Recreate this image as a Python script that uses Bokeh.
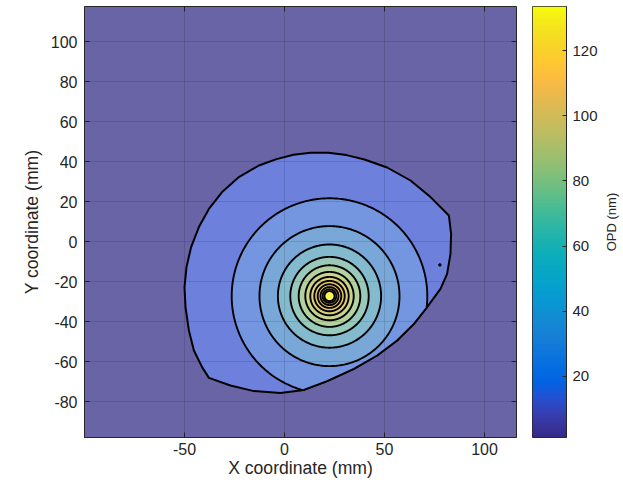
import numpy as np
from bokeh.plotting import figure
from bokeh.models import Range1d, FixedTicker, LinearColorMapper
from bokeh.layouts import row
from bokeh.embed import file_html
from bokeh.resources import INLINE

# ---------------- data ----------------
center_x = 22.5
center_y = -27.3
boundary_level = 10
ring_levels = [20, 30, 40, 50, 60, 70, 80, 90, 100, 110, 120, 130]
ring_radii = [48.9, 35.0, 25.8, 19.6, 15.4, 12.1, 9.6, 7.6, 5.9, 4.5, 3.4, 2.5]
boundary_x = [-37.8, -41.2, -45.3, -47.8, -49.5, -50.0, -49.0, -46.7, -42.8, -37.8,
              -31.2, -22.8, -12.8, -4.0, 4.5, 13.0, 22.0, 31.0, 40.0, 51.3, 63.0, 73.0,
              82.2, 83.3, 83.0, 81.3, 78.0, 71.3, 64.7, 56.3, 46.3, 34.7,
              21.3, 9.7, -2.0, -15.3, -27.0]
boundary_y = [-68.2, -62.8, -54.5, -44.5, -32.8, -22.8, -12.8, -2.8, 7.2, 16.3,
              24.7, 32.2, 38.0, 41.2, 43.4, 44.4, 44.4, 43.2, 41.0, 37.0, 30.5, 22.2,
              13.0, 3.8, -6.2, -16.2, -23.7, -32.8, -41.2, -49.5, -57.0, -63.7,
              -69.8, -74.2, -75.7, -74.8, -72.0]
island_x = [77.7]
island_y = [-11.7]
opd_min = 1.2
opd_max = 133.6
x_ticks = [-50, 0, 50, 100]
y_ticks = [-80, -60, -40, -20, 0, 20, 40, 60, 80, 100]
cbar_ticks = [20, 40, 60, 80, 100, 120]
x_lo, x_hi = -100, 116
y_lo, y_hi = -98, 117.5

# ---------------- styling ----------------
PARULA = [
    (0.2081, 0.1663, 0.5292), (0.2116, 0.1898, 0.5777), (0.2123, 0.2138, 0.6270), (0.2081, 0.2386, 0.6771),
    (0.1959, 0.2645, 0.7279), (0.1707, 0.2919, 0.7792), (0.1253, 0.3242, 0.8303), (0.0591, 0.3598, 0.8683),
    (0.0117, 0.3875, 0.8820), (0.0060, 0.4086, 0.8828), (0.0165, 0.4266, 0.8786), (0.0329, 0.4430, 0.8720),
    (0.0498, 0.4586, 0.8641), (0.0629, 0.4737, 0.8554), (0.0723, 0.4887, 0.8467), (0.0779, 0.5040, 0.8384),
    (0.0793, 0.5200, 0.8312), (0.0749, 0.5375, 0.8263), (0.0641, 0.5570, 0.8240), (0.0488, 0.5772, 0.8228),
    (0.0343, 0.5966, 0.8199), (0.0265, 0.6137, 0.8135), (0.0239, 0.6287, 0.8038), (0.0231, 0.6418, 0.7913),
    (0.0228, 0.6535, 0.7768), (0.0267, 0.6642, 0.7607), (0.0384, 0.6743, 0.7436), (0.0590, 0.6838, 0.7254),
    (0.0843, 0.6928, 0.7062), (0.1133, 0.7015, 0.6859), (0.1453, 0.7098, 0.6646), (0.1801, 0.7177, 0.6424),
    (0.2178, 0.7250, 0.6193), (0.2586, 0.7317, 0.5954), (0.3022, 0.7376, 0.5712), (0.3482, 0.7424, 0.5473),
    (0.3953, 0.7459, 0.5244), (0.4420, 0.7481, 0.5033), (0.4871, 0.7491, 0.4840), (0.5300, 0.7491, 0.4661),
    (0.5709, 0.7485, 0.4494), (0.6099, 0.7473, 0.4337), (0.6473, 0.7456, 0.4188), (0.6834, 0.7435, 0.4044),
    (0.7184, 0.7411, 0.3905), (0.7525, 0.7384, 0.3768), (0.7858, 0.7356, 0.3633), (0.8185, 0.7327, 0.3498),
    (0.8507, 0.7299, 0.3360), (0.8824, 0.7274, 0.3217), (0.9139, 0.7258, 0.3063), (0.9450, 0.7261, 0.2886),
    (0.9739, 0.7314, 0.2666), (0.9938, 0.7455, 0.2403), (0.9990, 0.7653, 0.2164), (0.9955, 0.7861, 0.1967),
    (0.9880, 0.8066, 0.1794), (0.9789, 0.8271, 0.1633), (0.9697, 0.8481, 0.1475), (0.9626, 0.8705, 0.1309),
    (0.9589, 0.8949, 0.1132), (0.9598, 0.9218, 0.0948), (0.9661, 0.9514, 0.0755), (0.9763, 0.9831, 0.0538)]
# washed fill colours of the contour bands (background, then level 10 ... 130)
BG_COLOR = "#6964a6"
BAND_COLORS = {10: "#6c80dc", 20: "#7496e0", 30: "#78a7d8", 40: "#84bace", 50: "#98c9bb",
               60: "#b2d3a0", 70: "#c9d38c", 80: "#dccf7a", 90: "#e7c76e", 100: "#edc266",
               110: "#f1cb5c", 120: "#f3dc55", 130: "#f8f65a"}
TEXT = "#262626"
FONT = "Liberation Sans"


def to_hex(c):
    return "#%02x%02x%02x" % tuple(int(round(max(0, min(1, v)) * 255)) for v in c)


def smooth_palette(n=256):
    arr = np.array(PARULA)
    s = np.linspace(0, 1, len(PARULA))
    t = np.linspace(0, 1, n)
    return [to_hex((np.interp(tt, s, arr[:, 0]), np.interp(tt, s, arr[:, 1]), np.interp(tt, s, arr[:, 2]))) for tt in t]


def inside(p, a, b):
    return (b[0] - a[0]) * (p[1] - a[1]) - (b[1] - a[1]) * (p[0] - a[0]) >= 0


def intersect(s, e, a, b):
    dx, dy = e[0] - s[0], e[1] - s[1]
    ex, ey = b[0] - a[0], b[1] - a[1]
    den = dx * ey - dy * ex
    t = ((a[0] - s[0]) * ey - (a[1] - s[1]) * ex) / den
    return (s[0] + t * dx, s[1] + t * dy)


def clip_polygon(subject, clip):
    out = list(subject)
    for i in range(len(clip)):
        a, b = clip[i - 1], clip[i]
        inp, out = out, []
        if not inp:
            break
        s = inp[-1]
        for e in inp:
            if inside(e, a, b):
                if not inside(s, a, b):
                    out.append(intersect(s, e, a, b))
                out.append(e)
            elif inside(s, a, b):
                out.append(intersect(s, e, a, b))
            s = e
    return out


# ---------------- main plot ----------------
p = figure(frame_width=432, frame_height=431, min_border_left=84, min_border_right=9,
           min_border_top=6, min_border_bottom=47,
           x_range=Range1d(x_lo, x_hi), y_range=Range1d(y_lo, y_hi),
           toolbar_location=None, output_backend="svg", tools="")
p.background_fill_color = BG_COLOR
p.border_fill_color = "white"
p.outline_line_color = TEXT
p.outline_line_width = 1

boundary = list(zip(boundary_x, boundary_y))
p.patch(boundary_x, boundary_y, fill_color=BAND_COLORS[boundary_level], line_color="black",
        line_width=2.0, line_join="round")

theta = np.linspace(0, 2 * np.pi, 361)[:-1]
for lev, r in zip(ring_levels, ring_radii):
    circ = list(zip(center_x + r * np.cos(theta), center_y + r * np.sin(theta)))
    poly = clip_polygon(boundary, circ)
    p.patch([q[0] for q in poly], [q[1] for q in poly], fill_color=BAND_COLORS[lev],
            line_color="black", line_width=1.9, line_join="round")

p.scatter(island_x, island_y, size=2.5, color="black")

# inward ticks on the top and right edges of the box
tick_len_x = (x_hi - x_lo) / 432 * 5
tick_len_y = (y_hi - y_lo) / 431 * 5
p.segment(x0=x_ticks, y0=[y_hi] * len(x_ticks), x1=x_ticks, y1=[y_hi - tick_len_y] * len(x_ticks),
          line_color=TEXT, line_width=1)
p.segment(x0=[x_hi] * len(y_ticks), y0=y_ticks, x1=[x_hi - tick_len_x] * len(y_ticks), y1=y_ticks,
          line_color=TEXT, line_width=1)

for ax in (p.xaxis[0], p.yaxis[0]):
    ax.major_tick_in = 5
    ax.major_tick_out = 0
    ax.minor_tick_line_color = None
    ax.axis_line_color = TEXT
    ax.major_tick_line_color = TEXT
    ax.major_label_text_font = FONT
    ax.major_label_text_font_size = "16px"
    ax.major_label_text_color = TEXT
    ax.axis_label_text_font = FONT
    ax.axis_label_text_font_size = "17.6px"
    ax.axis_label_text_font_style = "normal"
    ax.axis_label_text_color = TEXT

p.xaxis.ticker = FixedTicker(ticks=x_ticks)
p.yaxis.ticker = FixedTicker(ticks=y_ticks)
p.xaxis.major_label_overrides = {t: str(t) for t in x_ticks}
p.yaxis.major_label_overrides = {t: str(t) for t in y_ticks}
p.xaxis.axis_label = "X coordinate (mm)"
p.yaxis.axis_label = "Y coordinate (mm)"
p.xaxis.major_label_standoff = 5
p.xaxis.axis_label_standoff = 0
p.yaxis.major_label_standoff = 7
p.yaxis.axis_label_standoff = 6

p.xgrid.ticker = FixedTicker(ticks=x_ticks)
p.ygrid.ticker = FixedTicker(ticks=y_ticks)
p.grid.grid_line_color = "black"
p.grid.grid_line_alpha = 0.12
p.grid.level = "overlay"

# ---------------- colorbar ----------------
cb = figure(frame_width=34, frame_height=431, min_border_left=7, min_border_right=31,
            min_border_top=6, min_border_bottom=47,
            x_range=Range1d(0, 1), y_range=Range1d(opd_min, opd_max),
            x_axis_location=None, y_axis_location="right",
            toolbar_location=None, output_backend="svg", tools="")
cb.grid.visible = False
cb.outline_line_color = TEXT
cb.border_fill_color = "white"
mapper = LinearColorMapper(palette=smooth_palette(256), low=opd_min, high=opd_max)
grad = np.linspace(opd_min, opd_max, 256).reshape(-1, 1)
cb.image(image=[grad], x=0, y=opd_min, dw=1, dh=opd_max - opd_min, color_mapper=mapper)
ya = cb.yaxis[0]
ya.ticker = FixedTicker(ticks=cbar_ticks)
ya.major_tick_in = 4
ya.major_tick_out = 0
ya.minor_tick_line_color = None
ya.axis_line_color = TEXT
ya.major_tick_line_color = TEXT
ya.major_label_text_font = FONT
ya.major_label_text_font_size = "15px"
ya.major_label_text_color = TEXT
ya.major_label_standoff = 6

# colorbar title as the left-axis label of a slim neighbouring panel (reads bottom to top)
lab = figure(frame_width=7, frame_height=431, min_border_left=19, min_border_right=0,
             min_border_top=6, min_border_bottom=47,
             x_range=Range1d(0, 1), y_range=Range1d(opd_min, opd_max),
             x_axis_location=None, y_axis_location="left",
             toolbar_location=None, output_backend="svg", tools="")
lab.grid.visible = False
lab.outline_line_color = None
lab.background_fill_color = "white"
lab.border_fill_color = "white"
la = lab.yaxis[0]
la.ticker = FixedTicker(ticks=[])
la.axis_line_color = None
la.major_tick_line_color = None
la.minor_tick_line_color = None
la.major_label_standoff = 0
la.axis_label = "OPD (nm)"
la.axis_label_standoff = 1
la.axis_label_text_font = FONT
la.axis_label_text_font_size = "13px"
la.axis_label_text_font_style = "normal"
la.axis_label_text_color = TEXT

layout = row(p, cb, lab)
open("out.html", "w").write(file_html(layout, INLINE))
